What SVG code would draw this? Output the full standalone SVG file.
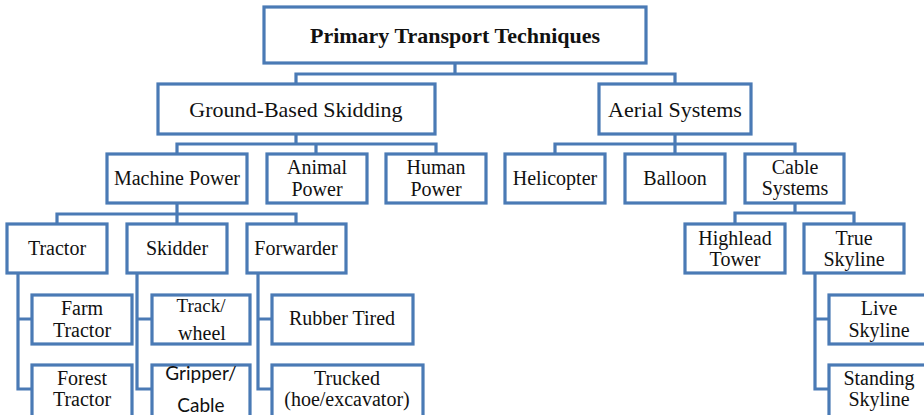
<svg xmlns="http://www.w3.org/2000/svg" width="924" height="415" viewBox="0 0 924 415">
<style>
rect{fill:#fff;stroke:#4a7ab5;stroke-width:3.2}
.c{fill:none;stroke:#4a7ab5;stroke-width:3.2;stroke-linejoin:miter}
text{font-family:"Liberation Serif","Times New Roman",serif;font-size:20px;fill:#111;text-anchor:middle}
.t{font-weight:bold;font-size:22px}
.l1{font-size:22px}
.s{font-family:Lato,"Liberation Sans",sans-serif;font-size:19px}
</style>
<rect x="0" y="0" width="924" height="415" style="stroke:none"/>
<g id="connectors">
<path class="c" d="M455,63V74 M296,84V74H675V84"/>
<path class="c" d="M296,134V144 M177,154V144H436V154 M316,144V154"/>
<path class="c" d="M675,134V144 M555,154V144H795V154 M675,144V154"/>
<path class="c" d="M177,203V214 M57,224V214H296V224 M177,214V224"/>
<path class="c" d="M795,203V213 M735,224V213H854V224"/>
<path class="c" d="M18,273V389H32 M18,319H32"/>
<path class="c" d="M137,273V389H152 M137,319H152"/>
<path class="c" d="M258,273V389H272 M258,319H272"/>
<path class="c" d="M815,273V389H829 M815,319H829"/>
</g>
<g id="n-primary"><rect x="264" y="7" width="382" height="56"/><text class="t" x="455" y="43">Primary Transport Techniques</text></g>
<g id="n-ground"><rect x="158" y="84" width="277" height="50"/><text class="l1" x="296" y="117">Ground-Based Skidding</text></g>
<g id="n-aerial"><rect x="599" y="84" width="152" height="50"/><text class="l1" x="675" y="117">Aerial Systems</text></g>
<g id="n-machine"><rect x="107" y="154" width="140" height="49"/><text x="177" y="185">Machine Power</text></g>
<g id="n-animal"><rect x="267" y="154" width="100" height="49"/><text x="317" y="174">Animal</text><text x="317" y="196">Power</text></g>
<g id="n-human"><rect x="386" y="154" width="100" height="49"/><text x="436" y="174">Human</text><text x="436" y="196">Power</text></g>
<g id="n-helicopter"><rect x="505" y="154" width="100" height="49"/><text x="555" y="185">Helicopter</text></g>
<g id="n-balloon"><rect x="625" y="154" width="100" height="49"/><text x="675" y="185">Balloon</text></g>
<g id="n-cable"><rect x="745" y="154" width="99" height="49"/><text x="795" y="174">Cable</text><text x="795" y="195">Systems</text></g>
<g id="n-tractor"><rect x="7" y="224" width="100" height="49"/><text x="57" y="255">Tractor</text></g>
<g id="n-skidder"><rect x="127" y="224" width="100" height="49"/><text x="177" y="255">Skidder</text></g>
<g id="n-forwarder"><rect x="247" y="224" width="99" height="49"/><text x="296" y="255">Forwarder</text></g>
<g id="n-highlead"><rect x="685" y="224" width="100" height="49"/><text x="735" y="245">Highlead</text><text x="735" y="266">Tower</text></g>
<g id="n-trueskyline"><rect x="804" y="224" width="100" height="49"/><text x="854" y="245">True</text><text x="854" y="266">Skyline</text></g>
<g id="n-farm"><rect x="32" y="295" width="100" height="49"/><text x="82" y="315">Farm</text><text x="82" y="337">Tractor</text></g>
<g id="n-forest"><rect x="32" y="365" width="100" height="53"/><text x="82" y="385">Forest</text><text x="82" y="406">Tractor</text></g>
<g id="n-track"><rect x="152" y="295" width="98" height="49"/><text x="201" y="312" style="font-size:19px">Track/</text><text x="202" y="340">wheel</text></g>
<g id="n-gripper"><rect x="152" y="365" width="98" height="53"/><text class="s" x="201" y="380">Gripper/</text><text class="s" x="201" y="412">Cable</text></g>
<g id="n-rubber"><rect x="272" y="295" width="141" height="49"/><text x="342" y="325">Rubber Tired</text></g>
<g id="n-trucked"><rect x="272" y="365" width="151" height="53"/><text x="347" y="385">Trucked</text><text x="347" y="406">(hoe/excavator)</text></g>
<g id="n-live"><rect x="829" y="295" width="100" height="49"/><text x="879" y="315">Live</text><text x="879" y="337">Skyline</text></g>
<g id="n-standing"><rect x="829" y="365" width="100" height="53"/><text x="879" y="385">Standing</text><text x="879" y="406">Skyline</text></g>
</svg>
